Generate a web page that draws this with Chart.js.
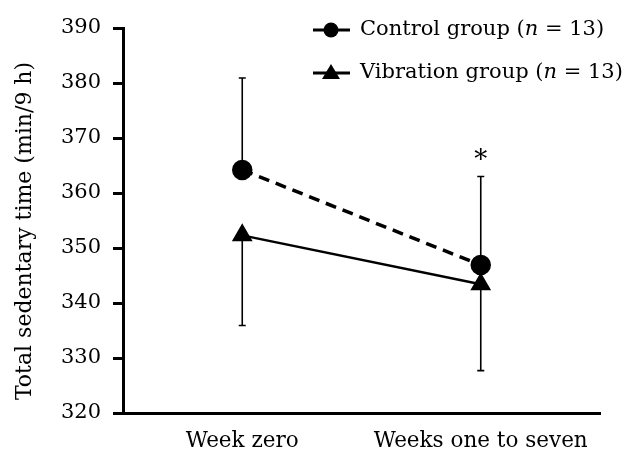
<!DOCTYPE html>
<html>
<head>
<meta charset="utf-8">
<script src="https://cdn.jsdelivr.net/npm/chart.js@4"></script>
<style>
  html, body { margin: 0; padding: 0; background: #fff; }
  #wrap { width: 628px; height: 453px; }
</style>
</head>
<body>
<div id="wrap"><canvas id="sedentaryChart" width="628" height="453"></canvas></div>
<script>
const periods = ['Week zero', 'Weeks one to seven'];
const controlMeans = [364.2, 346.9];
const vibrationMeans = [352.3, 343.4];
const controlUpper = [380.9, 363.0];
const vibrationLower = [335.9, 327.7];
const significance = ['', '*'];

const fontFamily = '"DejaVu Serif", "Liberation Serif", serif';

// error bars: control upward only, vibration downward only
const errorBars = {
    id: 'errorBars',
    beforeDatasetsDraw(chart) {
        const ctx = chart.ctx;
        const x = chart.scales.x, y = chart.scales.y;
        ctx.save();
        ctx.strokeStyle = '#000';
        ctx.lineWidth = 1.6;
        periods.forEach((p, i) => {
            const px = x.getPixelForValue(i);
            const bars = [[controlMeans[i], controlUpper[i]], [vibrationMeans[i], vibrationLower[i]]];
            bars.forEach(([from, to]) => {
                const y1 = y.getPixelForValue(from), y2 = y.getPixelForValue(to);
                ctx.beginPath();
                ctx.moveTo(px, y1);
                ctx.lineTo(px, y2);
                ctx.moveTo(px - 3.5, y2);
                ctx.lineTo(px + 3.5, y2);
                ctx.stroke();
            });
        });
        ctx.restore();
    },
    afterDatasetsDraw(chart) {
        const ctx = chart.ctx;
        const x = chart.scales.x, y = chart.scales.y;
        ctx.save();
        ctx.fillStyle = '#000';
        ctx.font = '26px ' + fontFamily;
        ctx.textAlign = 'center';
        ctx.textBaseline = 'middle';
        periods.forEach((p, i) => {
            if (significance[i]) {
                ctx.fillText(significance[i], x.getPixelForValue(i), y.getPixelForValue(controlUpper[i]) - 15);
            }
        });
        ctx.restore();
    }
};

// legend with line + marker samples
const lineLegend = {
    id: 'lineLegend',
    afterDraw(chart) {
        const ctx = chart.ctx;
        ctx.save();
        ctx.textBaseline = 'middle';
        ctx.fillStyle = '#000';
        const rows = [
            { y: 30, marker: 'circle', parts: ['Control group (', 'n', ' = 13)'] },
            { y: 73, marker: 'triangle', parts: ['Vibration group (', 'n', ' = 13)'] }
        ];
        rows.forEach(r => {
            ctx.strokeStyle = '#000';
            ctx.lineWidth = 3;
            ctx.beginPath();
            ctx.moveTo(313, r.y);
            ctx.lineTo(350, r.y);
            ctx.stroke();
            ctx.beginPath();
            if (r.marker === 'circle') {
                ctx.arc(331, r.y, 7.5, 0, Math.PI * 2);
            } else {
                ctx.moveTo(331, r.y - 9);
                ctx.lineTo(340, r.y + 6);
                ctx.lineTo(322, r.y + 6);
                ctx.closePath();
            }
            ctx.fill();
            let tx = 360;
            r.parts.forEach((t, k) => {
                ctx.font = (k === 1 ? 'italic ' : '') + '21px ' + fontFamily;
                ctx.fillText(t, tx, r.y);
                tx += ctx.measureText(t).width;
            });
        });
        ctx.restore();
    }
};

new Chart(document.getElementById('sedentaryChart'), {
    type: 'line',
    data: {
        labels: periods,
        datasets: [{
            label: 'Control group (n = 13)',
            data: controlMeans,
            borderColor: '#000',
            backgroundColor: '#000',
            borderWidth: 3.5,
            borderDash: [11, 7],
            pointStyle: 'circle',
            pointRadius: 8.5,
            pointHoverRadius: 8.5
        }, {
            label: 'Vibration group (n = 13)',
            data: vibrationMeans,
            borderColor: '#000',
            backgroundColor: '#000',
            borderWidth: 2.5,
            pointStyle: 'triangle',
            pointRadius: 9.5,
            pointHoverRadius: 9.5
        }]
    },
    options: {
        responsive: false,
        animation: false,
        layout: { padding: { top: 28, right: 28, left: 0, bottom: 0 } },
        plugins: {
            legend: { display: false },
            tooltip: { enabled: false }
        },
        scales: {
            x: {
                offset: true,
                grid: { display: false },
                border: { color: '#000', width: 3 },
                ticks: { color: '#000', font: { family: fontFamily, size: 21.5 }, padding: 8 },
                afterFit(scale) { scale.height = 40; }
            },
            y: {
                min: 320,
                max: 390,
                ticks: { stepSize: 10, color: '#000', font: { family: fontFamily, size: 21 }, padding: 12 },
                grid: { drawOnChartArea: false, drawTicks: true, tickLength: 10, color: '#000', lineWidth: 3 },
                border: { color: '#000', width: 3 },
                title: {
                    display: true,
                    // trailing spaces nudge the title down to where the original sits
                    text: 'Total sedentary time (min/9 h)\u00a0\u00a0\u00a0',
                    color: '#000',
                    font: { family: fontFamily, size: 22 },
                    padding: { top: 12, bottom: 0 }
                },
                afterFit(scale) { scale.width = 123; }
            }
        }
    },
    plugins: [errorBars, lineLegend]
});
</script>
</body>
</html>
